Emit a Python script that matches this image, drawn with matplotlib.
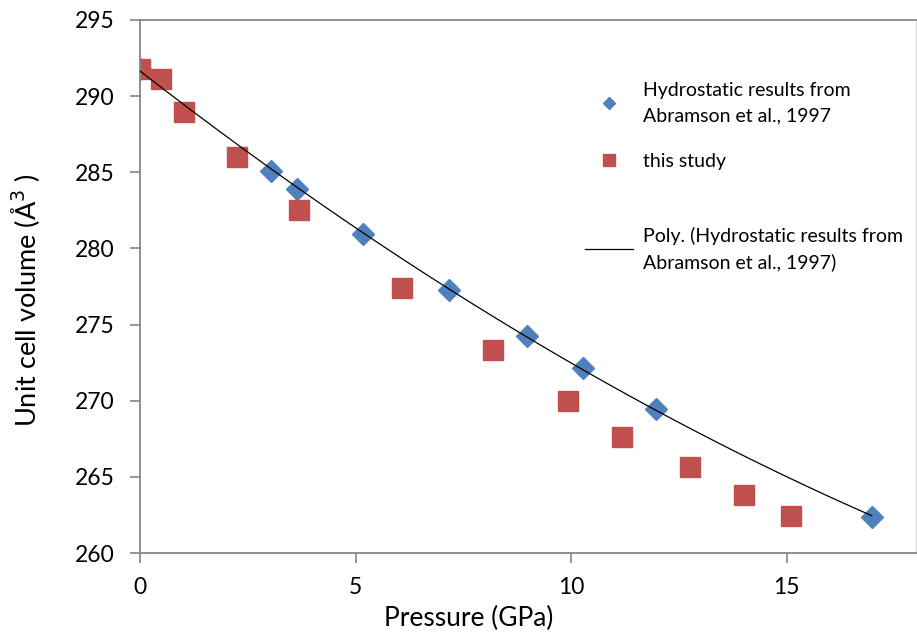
import numpy as np
import matplotlib
matplotlib.use("Agg")
import matplotlib.pyplot as plt
from matplotlib.lines import Line2D

# Data
hydro_p = [0.0, 3.05, 3.65, 5.17, 7.17, 8.97, 10.28, 11.97, 16.97]
hydro_v = [291.8, 285.1, 283.9, 280.95, 277.27, 274.25, 272.15, 269.46, 262.37]
study_p = [0.0, 0.49, 1.02, 2.25, 3.69, 6.08, 8.19, 9.93, 11.18, 12.76, 14.01, 15.1]
study_v = [291.8, 291.1, 288.96, 286.0, 282.5, 277.4, 273.3, 270.0, 267.6, 265.65, 263.8, 262.4]
xticks = [0, 5, 10, 15]
yticks = [260, 265, 270, 275, 280, 285, 290, 295]

lab_hydro = "Hydrostatic results from\nAbramson et al., 1997"
lab_study = "this study"
lab_poly = "Poly. (Hydrostatic results from\nAbramson et al., 1997)"

blue = "#4F81BD"
red = "#C0504D"
grey = "#868686"

plt.rcParams['font.family'] = ['Lato', 'DejaVu Sans']

fig = plt.figure(figsize=(9.17, 6.37), dpi=100)
ax = fig.add_axes([140/917, 1-553/637, (916-140)/917, (553-20)/637])

coef = np.polyfit(hydro_p, hydro_v, 2)
xs = np.linspace(min(hydro_p), max(hydro_p), 200)
ax.plot(xs, np.polyval(coef, xs), color="black", lw=0.9, zorder=3)
ax.plot(hydro_p, hydro_v, linestyle="none", marker="D", ms=11.7, color=blue, mec=blue, zorder=2)
ax.plot(study_p, study_v, linestyle="none", marker="s", ms=15, color=red, mec=red, zorder=2.5)

ax.set_xlim(0, 18)
ax.set_ylim(260, 295)
ax.set_xticks(xticks)
ax.set_yticks(yticks)
ax.tick_params(axis='both', direction='out', length=7, width=1.2, color=grey, labelsize=16.5)
ax.tick_params(axis='y', pad=11)
ax.tick_params(axis='x', pad=10)
for side in ['left', 'bottom', 'top']:
    ax.spines[side].set_color(grey)
    ax.spines[side].set_linewidth(1.3)
ax.spines['right'].set_color("#d9d9d9")
ax.spines['right'].set_linewidth(1)

ax.set_xlabel("Pressure (GPa)", fontsize=19)
ax.set_ylabel("Unit cell volume (Å$^{3}$ )", fontsize=19.5)
ax.xaxis.set_label_coords((469-140)/776, (553-606)/533)
ax.yaxis.set_label_coords((42-140)/776, (553-300)/533)

h1 = Line2D([], [], linestyle="none", marker="D", ms=6, color=blue)
h2 = Line2D([], [], linestyle="none", marker="s", ms=8, color=red)
h3 = Line2D([], [], color="black", lw=0.9)

leg_kw = dict(frameon=False, fontsize=14, handlelength=2.47, handletextpad=0.52,
              borderpad=0, borderaxespad=0, bbox_transform=fig.transFigure, loc="upper left")
leg1 = ax.legend([h1, h2], [lab_hydro, lab_study],
                 bbox_to_anchor=(585/917, 1-82/637), labelspacing=1.5, **leg_kw)
ax.add_artist(leg1)
leg2 = ax.legend([h3], [lab_poly], bbox_to_anchor=(585/917, 1-227/637), **leg_kw)
for lg in (leg1, leg2):
    for t in lg.get_texts():
        t.set_linespacing(1.57)

fig.savefig("out.png", dpi=100)
